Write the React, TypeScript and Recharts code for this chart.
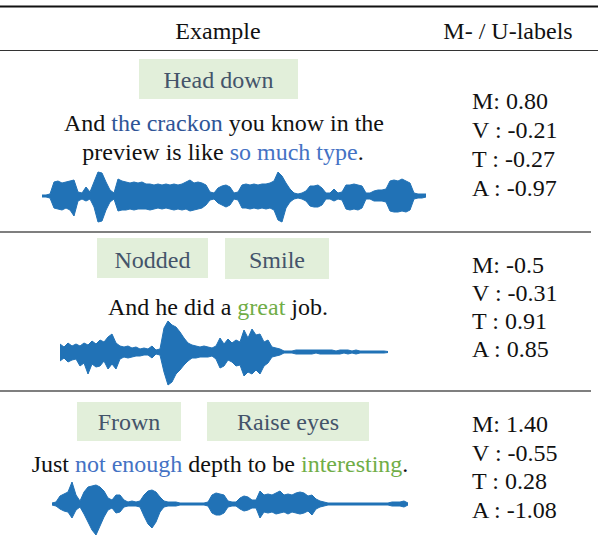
import React from "react";
import { AreaChart, Area, XAxis, YAxis } from "recharts";

// waveform envelopes, amplitude above / below the centre line, one sample per step
const wave1Top = [1, 1, 2, 14, 15, 13, 14, 15, 16, 4, 3, 9, 4, 14, 24, 23, 14, 6, 3, 17, 15, 14, 13, 14, 13, 14, 12, 12, 11, 12, 11, 12, 11, 12, 11, 12, 14, 16, 13, 14, 13, 11, 4, 3, 8, 10, 11, 9, 3, 4, 11, 12, 11, 12, 11, 12, 12, 13, 15, 24, 20, 13, 7, 3, 2, 3, 5, 10, 10, 11, 8, 3, 3, 7, 3, 4, 11, 11, 12, 11, 10, 3, 3, 5, 6, 6, 7, 15, 16, 15, 17, 15, 13, 3, 2, 2, 2];
const wave1Bottom = [1, 1, 2, 12, 13, 14, 12, 14, 20, 5, 3, 5, 3, 11, 26, 25, 14, 6, 3, 15, 14, 14, 13, 14, 13, 13, 13, 14, 13, 12, 13, 12, 13, 14, 13, 14, 13, 15, 14, 13, 12, 9, 4, 3, 7, 9, 11, 9, 3, 4, 12, 12, 13, 12, 13, 12, 13, 12, 14, 24, 26, 12, 6, 3, 2, 3, 5, 10, 11, 11, 9, 3, 3, 5, 3, 4, 13, 14, 13, 14, 12, 3, 3, 5, 5, 5, 6, 15, 16, 16, 15, 16, 14, 3, 2, 2, 1];

const wave2Top = [8, 5, 9, 6, 8, 6, 9, 7, 11, 8, 12, 10, 15, 18, 9, 6, 5, 6, 4, 5, 3, 4, 3, 6, 2, 3, 24, 31, 27, 25, 20, 14, 9, 7, 6, 5, 6, 5, 4, 6, 14, 8, 13, 9, 12, 10, 22, 14, 23, 17, 18, 10, 12, 5, 4, 3, 1, 1, 1, 2, 2, 2, 2, 2, 2, 2, 2, 2, 2, 1, 2, 2, 2, 1, 2, 1, 1, 1, 1, 1, 1, 1, 0.5];
const wave2Bottom = [9, 6, 10, 8, 7, 14, 11, 22, 12, 15, 14, 9, 17, 12, 17, 7, 5, 6, 5, 4, 4, 3, 3, 6, 2, 3, 20, 33, 30, 22, 18, 13, 9, 6, 6, 5, 5, 5, 4, 7, 16, 14, 8, 10, 14, 13, 24, 20, 22, 18, 22, 14, 11, 5, 4, 3, 1, 1, 1, 2, 2, 2, 2, 2, 1, 2, 2, 2, 2, 2, 2, 1, 2, 1, 2, 1, 1, 1, 1, 1, 1, 1, 0.5];

const wave3Top = [1, 2, 8, 10, 12, 22, 9, 3, 12, 17, 18, 19, 17, 13, 6, 4, 9, 9, 4, 2, 3, 2, 3, 9, 13, 14, 12, 7, 3, 2, 2, 2, 1, 1, 1, 1, 1, 1, 1, 2, 9, 11, 10, 9, 3, 2, 2, 6, 8, 7, 4, 4, 13, 9, 10, 9, 11, 13, 9, 10, 9, 11, 12, 11, 8, 9, 5, 3, 2, 1, 1, 1, 1, 1, 1, 1, 1, 1, 1, 1, 1, 1, 1, 1, 1, 2, 2, 2, 3, 1];
const wave3Bottom = [1, 2, 5, 7, 8, 14, 6, 3, 10, 18, 26, 31, 22, 13, 6, 4, 9, 8, 3, 2, 2, 2, 3, 12, 20, 24, 18, 8, 3, 2, 2, 2, 1, 1, 1, 1, 1, 1, 1, 2, 9, 11, 11, 9, 3, 2, 2, 5, 7, 6, 4, 4, 14, 8, 9, 8, 10, 9, 8, 10, 8, 9, 10, 9, 7, 11, 5, 3, 2, 1, 1, 1, 1, 1, 1, 1, 1, 1, 1, 1, 1, 1, 1, 1, 1, 2, 2, 2, 3, 1];

const gestures = [["Head down"], ["Nodded", "Smile"], ["Frown", "Raise eyes"]];
const labels = [
  ["M: 0.80", "V : -0.21", "T : -0.27", "A : -0.97"],
  ["M: -0.5", "V : -0.31", "T : 0.91", "A : 0.85"],
  ["M: 1.40", "V : -0.55", "T : 0.28", "A : -1.08"],
];

const WAVE = "#2172b6";
const BOX = "#e2efda";
const BOX_TEXT = "#44546a";
const DARK_BLUE = "#2f5597";
const BLUE = "#4472c4";
const GREEN = "#70ad47";
const FONT = '"Liberation Serif", "Times New Roman", Times, serif';

function Wave({ top, bottom, left, y, width, amp }: { top: number[]; bottom: number[]; left: number; y: number; width: number; amp: number }) {
  const data = top.map((t, i) => ({ i, range: [-bottom[i], t] }));
  return (
    <div style={{ position: "absolute", left, top: y - amp, width, height: amp * 2 }}>
      <AreaChart width={width} height={amp * 2} data={data} margin={{ top: 0, right: 0, bottom: 0, left: 0 }}>
        <XAxis dataKey="i" type="number" domain={[0, top.length - 1]} hide />
        <YAxis domain={[-amp, amp]} hide />
        <Area type="linear" dataKey="range" stroke={WAVE} strokeWidth={1} fill={WAVE} fillOpacity={1} dot={false} isAnimationActive={false} />
      </AreaChart>
    </div>
  );
}

// box rects: [x, y, w, h] per gesture tag
const boxes = [
  [[139, 59, 159, 40]],
  [[97, 238, 111, 40], [225, 238, 104, 41]],
  [[77, 402, 104, 39], [207, 402, 162, 39]],
];
const boxBaselines = [88, 268, 430];
const labelBaselines = [
  [109, 138, 167, 196],
  [273, 301, 329, 357],
  [432, 461, 489, 518],
];

export default function App() {
  return (
    <div style={{ position: "absolute", left: 0, top: 0, width: 598, height: 546, background: "#fff", fontFamily: FONT }}>
      <svg width={598} height={546} style={{ position: "absolute", left: 0, top: 0, fontFamily: FONT, fontSize: 24 }}>
        <line x1={0} x2={598} y1={6.5} y2={6.5} stroke="#111" strokeWidth={2} />
        <text x={218} y={39} textAnchor="middle" fill="#111">Example</text>
        <text x={508} y={39} textAnchor="middle" fill="#111">M- / U-labels</text>
        <line x1={0} x2={598} y1={50.5} y2={50.5} stroke="#333" strokeWidth={1.2} />
        <line x1={0} x2={591} y1={232} y2={232} stroke="#555" strokeWidth={1.5} />
        <line x1={0} x2={591} y1={391} y2={391} stroke="#555" strokeWidth={1.5} />

        {boxes.map((row, r) =>
          row.map(([x, y, w, h], k) => (
            <g key={`${r}-${k}`}>
              <rect x={x} y={y} width={w} height={h} fill={BOX} />
              <text x={x + w / 2} y={boxBaselines[r]} textAnchor="middle" fill={BOX_TEXT}>{gestures[r][k]}</text>
            </g>
          ))
        )}

        <text x={224} y={131} textAnchor="middle" fill="#111">
          And <tspan fill={DARK_BLUE}>the crackon</tspan> you know in the
        </text>
        <text x={223} y={160} textAnchor="middle" fill="#111">
          preview is like <tspan fill={BLUE}>so much type</tspan>.
        </text>
        <text x={218} y={315} textAnchor="middle" fill="#111">
          And he did a <tspan fill={GREEN}>great</tspan> job.
        </text>
        <text x={220} y={472} textAnchor="middle" fill="#111">
          Just <tspan fill={BLUE}>not enough</tspan> depth to be <tspan fill={GREEN}>interesting</tspan>.
        </text>

        {labels.map((row, r) =>
          row.map((s, k) => (
            <text key={`l${r}-${k}`} x={472} y={labelBaselines[r][k]} fill="#111">{s}</text>
          ))
        )}
      </svg>
      <Wave top={wave1Top} bottom={wave1Bottom} left={42} y={196} width={384} amp={30} />
      <Wave top={wave2Top} bottom={wave2Bottom} left={60} y={352} width={328} amp={35} />
      <Wave top={wave3Top} bottom={wave3Bottom} left={52} y={504} width={356} amp={35} />
    </div>
  );
}
